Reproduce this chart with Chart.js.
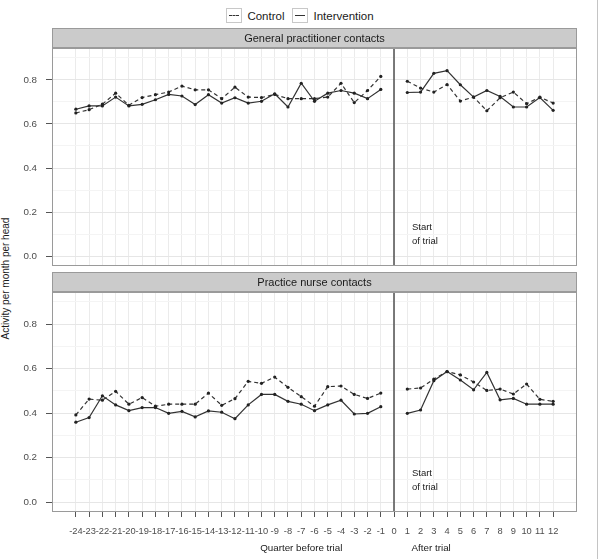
<!DOCTYPE html>
<html>
<head>
<meta charset="utf-8">
<script src="https://cdn.jsdelivr.net/npm/chart.js@4.4.1/dist/chart.umd.min.js"></script>
<style>
  body { margin: 0; background: #fff; }
  #wrap { position: relative; width: 600px; height: 559px; overflow: hidden; font-family: "Liberation Sans", Arial, sans-serif; color: #1a1a1a; }
  canvas { position: absolute; left: 0; }
  #gpChart { top: 0; }
  #nurseChart { top: 270px; }
  .legend { position: absolute; top: 8px; left: 0; width: 600px; display: flex; justify-content: center; align-items: center; font-size: 11.5px; }
  .legend .item { display: flex; align-items: center; margin: 0 4px; }
  .key { width: 14px; height: 13px; border: 1px solid #c8c8c8; position: relative; margin-right: 5px; }
  .key span { position: absolute; left: 2px; right: 2px; top: 6px; border-top: 1px solid #333; }
  .key.dashed span { border-top-style: dashed; }
  .ytitle { position: absolute; left: -95px; top: 273px; width: 200px; text-align: center; font-size: 10px; transform: rotate(-90deg); }
  .frame { position: absolute; left: 597px; top: 0; width: 1px; height: 559px; background: #c4c4c4; }
</style>
</head>
<body>
<div id="wrap">
  <div class="legend">
    <div class="item"><div class="key dashed"><span></span></div>Control</div>
    <div class="item"><div class="key"><span></span></div>Intervention</div>
  </div>
  <div class="ytitle">Activity per month per head</div>
  <canvas id="gpChart" width="600" height="270"></canvas>
  <canvas id="nurseChart" width="600" height="289"></canvas>
  <div class="frame"></div>
</div>
<script>
// quarters relative to start of trial
const quartersBefore = [-24, -23, -22, -21, -20, -19, -18, -17, -16, -15, -14, -13, -12, -11, -10, -9, -8, -7, -6, -5, -4, -3, -2, -1];
const quartersAfter = [1, 2, 3, 4, 5, 6, 7, 8, 9, 10, 11, 12];
const xTicks = [-24, -23, -22, -21, -20, -19, -18, -17, -16, -15, -14, -13, -12, -11, -10, -9, -8, -7, -6, -5, -4, -3, -2, -1, 0, 1, 2, 3, 4, 5, 6, 7, 8, 9, 10, 11, 12];
const yTicks = [0, 0.1, 0.2, 0.3, 0.4, 0.5, 0.6, 0.7, 0.8, 0.9];
const trialStart = 0;

// General practitioner contacts
const gpControlBefore = [0.650, 0.665, 0.690, 0.740, 0.685, 0.720, 0.733, 0.745, 0.772, 0.755, 0.755, 0.715, 0.767, 0.722, 0.720, 0.734, 0.715, 0.715, 0.715, 0.722, 0.785, 0.697, 0.752, 0.816];
const gpInterventionBefore = [0.667, 0.682, 0.682, 0.722, 0.682, 0.689, 0.710, 0.734, 0.727, 0.688, 0.733, 0.695, 0.719, 0.695, 0.703, 0.737, 0.677, 0.785, 0.703, 0.740, 0.752, 0.740, 0.715, 0.757];
const gpControlAfter = [0.794, 0.763, 0.745, 0.779, 0.704, 0.722, 0.660, 0.719, 0.745, 0.692, 0.722, 0.695];
const gpInterventionAfter = [0.743, 0.745, 0.830, 0.842, 0.778, 0.722, 0.752, 0.725, 0.677, 0.677, 0.720, 0.662];

// Practice nurse contacts
const nurseControlBefore = [0.392, 0.463, 0.458, 0.498, 0.440, 0.470, 0.431, 0.440, 0.440, 0.440, 0.490, 0.435, 0.465, 0.543, 0.534, 0.562, 0.516, 0.474, 0.431, 0.519, 0.522, 0.484, 0.466, 0.490];
const nurseInterventionBefore = [0.359, 0.380, 0.478, 0.437, 0.411, 0.425, 0.425, 0.399, 0.408, 0.383, 0.410, 0.404, 0.375, 0.437, 0.484, 0.484, 0.453, 0.440, 0.411, 0.437, 0.458, 0.396, 0.399, 0.429];
const nurseControlAfter = [0.508, 0.513, 0.553, 0.587, 0.572, 0.540, 0.502, 0.508, 0.486, 0.531, 0.462, 0.453];
const nurseInterventionAfter = [0.399, 0.414, 0.546, 0.587, 0.549, 0.505, 0.583, 0.460, 0.466, 0.440, 0.440, 0.440];

Chart.defaults.font.family = '"Liberation Sans", Arial, sans-serif';

// join before/after with a gap at quarter 0
function series(before, after) {
    return quartersBefore.map((q, i) => ({ x: q, y: before[i] }))
        .concat([{ x: 0, y: null }])
        .concat(quartersAfter.map((q, i) => ({ x: q, y: after[i] })));
}

function makeDatasets(controlBefore, controlAfter, intBefore, intAfter) {
    const common = {
        borderColor: '#333',
        borderWidth: 1.2,
        pointRadius: 1.6,
        pointBackgroundColor: '#222',
        pointBorderWidth: 0,
        tension: 0,
        spanGaps: false,
    };
    return [
        { ...common, label: 'Control', data: series(controlBefore, controlAfter), borderDash: [4, 3] },
        { ...common, label: 'Intervention', data: series(intBefore, intAfter) },
    ];
}

// strip header, panel border, trial start line and text annotations
const facetPlugin = {
    id: 'facet',
    beforeDatasetsDraw(chart) {
        const { ctx, chartArea: a, scales } = chart;
        const x0 = Math.round(scales.x.getPixelForValue(trialStart));
        ctx.save();
        ctx.strokeStyle = '#5a5a5a';
        ctx.lineWidth = 1.6;
        ctx.beginPath();
        ctx.moveTo(x0, a.top);
        ctx.lineTo(x0, a.bottom);
        ctx.stroke();
        ctx.restore();
    },
    afterDraw(chart, args, opts) {
        const { ctx, chartArea: a, scales } = chart;
        const w = a.right - a.left;
        ctx.save();
        ctx.fillStyle = '#cbcbcb';
        ctx.fillRect(a.left, a.top - 20, w, 20);
        ctx.strokeStyle = '#9a9a9a';
        ctx.lineWidth = 1;
        ctx.strokeRect(a.left + 0.5, a.top - 19.5, w - 1, 19);
        ctx.fillStyle = '#1a1a1a';
        ctx.font = '11px "Liberation Sans", Arial, sans-serif';
        ctx.textAlign = 'center';
        ctx.textBaseline = 'middle';
        ctx.fillText(opts.title, (a.left + a.right) / 2, a.top - 9.5);

        ctx.strokeRect(a.left + 0.5, a.top + 0.5, w - 1, a.bottom - a.top - 1);

        ctx.font = '9.5px "Liberation Sans", Arial, sans-serif';
        ctx.textAlign = 'left';
        const tx = scales.x.getPixelForValue(1.35);
        ctx.fillText('Start', tx, scales.y.getPixelForValue(0.13));
        ctx.fillText('of trial', tx, scales.y.getPixelForValue(0.068));

        if (opts.bottom) {
            ctx.textAlign = 'center';
            ctx.font = '9.8px "Liberation Sans", Arial, sans-serif';
            ctx.fillText('Quarter before trial', scales.x.getPixelForValue(-7.0), a.bottom + 36);
            ctx.fillText('After trial', scales.x.getPixelForValue(2.8), a.bottom + 36);
        }
        ctx.restore();
    }
};

function panelOptions(title, isBottom) {
    return {
        responsive: false,
        animation: false,
        devicePixelRatio: 1,
        layout: { padding: { left: 0, right: 23, top: isBottom ? 22 : 48, bottom: isBottom ? 0 : 2 } },
        plugins: {
            legend: { display: false },
            tooltip: { enabled: false },
            facet: { title: title, bottom: isBottom },
        },
        scales: {
            x: {
                type: 'linear',
                min: -25.8,
                max: 13.8,
                afterBuildTicks: (axis) => { axis.ticks = xTicks.map((v) => ({ value: v })); },
                afterFit: (s) => { s.height = isBottom ? 47 : 0; s.paddingLeft = 0; s.paddingRight = 0; },
                border: { display: false },
                grid: {
                    color: '#ebebeb',
                    drawTicks: isBottom,
                    tickLength: 5,
                    tickColor: '#555',
                },
                ticks: {
                    display: isBottom,
                    autoSkip: false,
                    maxRotation: 0,
                    minRotation: 0,
                    padding: 9,
                    color: '#4d4d4d',
                    font: { size: 9.3 },
                    callback: (v) => String(v),
                },
            },
            y: {
                min: -0.045,
                max: 0.945,
                afterBuildTicks: (axis) => { axis.ticks = yTicks.map((v) => ({ value: v })); },
                afterFit: (s) => { s.width = 52; s.paddingTop = 0; s.paddingBottom = 0; },
                border: { display: false },
                grid: {
                    color: (c) => (c.tick && Math.round(c.tick.value * 10) % 2 === 0 ? '#e6e6e6' : '#f4f4f4'),
                    tickLength: 6,
                    tickColor: (c) => (c.tick && Math.round(c.tick.value * 10) % 2 === 0 ? '#555' : 'rgba(0,0,0,0)'),
                },
                ticks: {
                    padding: 9,
                    color: '#4d4d4d',
                    font: { size: 9.8 },
                    callback: (v) => (Math.round(v * 10) % 2 === 0 ? v.toFixed(1) : ''),
                },
            },
        },
    };
}

new Chart(document.getElementById('gpChart'), {
    type: 'line',
    data: { datasets: makeDatasets(gpControlBefore, gpControlAfter, gpInterventionBefore, gpInterventionAfter) },
    options: panelOptions('General practitioner contacts', false),
    plugins: [facetPlugin],
});

new Chart(document.getElementById('nurseChart'), {
    type: 'line',
    data: { datasets: makeDatasets(nurseControlBefore, nurseControlAfter, nurseInterventionBefore, nurseInterventionAfter) },
    options: panelOptions('Practice nurse contacts', true),
    plugins: [facetPlugin],
});
</script>
</body>
</html>
